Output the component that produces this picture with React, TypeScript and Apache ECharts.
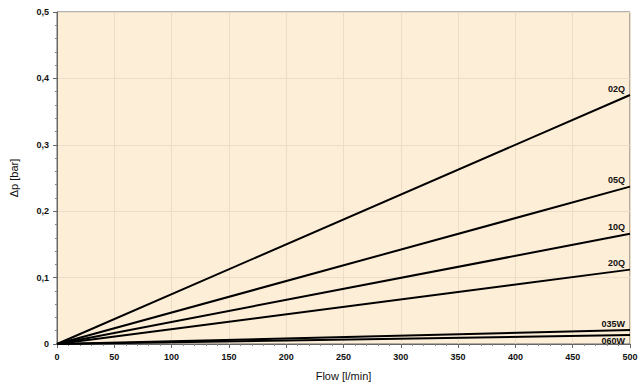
import React, { useEffect, useRef } from "react";
import * as echarts from "echarts";

const seriesNames = ["02Q", "05Q", "10Q", "20Q", "035W", "060W"];
const flowPoints = [0, 500];
const dpAtEnd = [0.375, 0.237, 0.166, 0.112, 0.021, 0.0135];
const xTicks = [0, 50, 100, 150, 200, 250, 300, 350, 400, 450, 500];
const yTicks = [0, 0.1, 0.2, 0.3, 0.4, 0.5];

export default function App() {
  const ref = useRef<HTMLDivElement>(null);
  useEffect(() => {
    if (!ref.current) return;
    const chart = echarts.init(ref.current, undefined, { renderer: "svg" });
    const font = "Liberation Sans, Arial, sans-serif";
    const series = seriesNames.map((name, i) => ({
      name,
      type: "line",
      symbol: "circle",
      symbolSize: 0,
      showSymbol: true,
      lineStyle: { color: "#000", width: 2 },
      itemStyle: { color: "#000" },
      data: flowPoints.map((f, j) => {
        const v = j === 0 ? 0 : dpAtEnd[i];
        if (j === flowPoints.length - 1) {
          const below = i === seriesNames.length - 1;
          return {
            value: [f, v],
            label: {
              show: true,
              formatter: name,
              position: below ? "bottom" : "top",
              align: "right",
              distance: below ? 1 : 2,
              offset: [-5, 0],
              color: "#111",
              fontWeight: "bold",
              fontSize: 9,
              fontFamily: font,
            },
          };
        }
        return { value: [f, v], label: { show: false } };
      }),
    }));
    chart.setOption({
      animation: false,
      backgroundColor: "#fff",
      grid: {
        left: 56,
        right: 13,
        top: 12,
        bottom: 43,
        show: true,
        backgroundColor: "#fdeed7",
        borderColor: "#666",
        borderWidth: 1,
      },
      xAxis: {
        type: "value",
        min: xTicks[0],
        max: xTicks[xTicks.length - 1],
        interval: 50,
        name: "Flow [l/min]",
        nameLocation: "middle",
        nameGap: 26,
        nameTextStyle: { fontSize: 11, color: "#111", fontFamily: font },
        axisLine: { lineStyle: { color: "#666" } },
        axisTick: { show: true, length: 4, lineStyle: { color: "#666" } },
        minorTick: { show: true, splitNumber: 5, length: 2, lineStyle: { color: "#888" } },
        axisLabel: { fontSize: 9, fontWeight: "bold", color: "#111", fontFamily: font, margin: 8 },
        splitLine: { show: true, lineStyle: { color: "#ecdcc8", width: 1 } },
      },
      yAxis: {
        type: "value",
        min: yTicks[0],
        max: yTicks[yTicks.length - 1],
        interval: 0.1,
        name: "Δp [bar]",
        nameLocation: "middle",
        nameGap: 38,
        nameTextStyle: { fontSize: 11, color: "#111", fontFamily: font },
        axisLine: { show: true, lineStyle: { color: "#666" } },
        axisTick: { show: true, length: 4, lineStyle: { color: "#666" } },
        minorTick: { show: true, splitNumber: 5, length: 2, lineStyle: { color: "#888" } },
        axisLabel: {
          fontSize: 9,
          fontWeight: "bold",
          color: "#111",
          fontFamily: font,
          margin: 8,
          formatter: (v: number) => (v === 0 ? "0" : v.toFixed(1).replace(".", ",")),
        },
        splitLine: { show: true, lineStyle: { color: "#ecdcc8", width: 1 } },
      },
      series,
    });
    return () => chart.dispose();
  }, []);
  return (
    <div
      ref={ref}
      style={{ position: "fixed", left: 0, top: 0, width: 643, height: 387 }}
    />
  );
}
